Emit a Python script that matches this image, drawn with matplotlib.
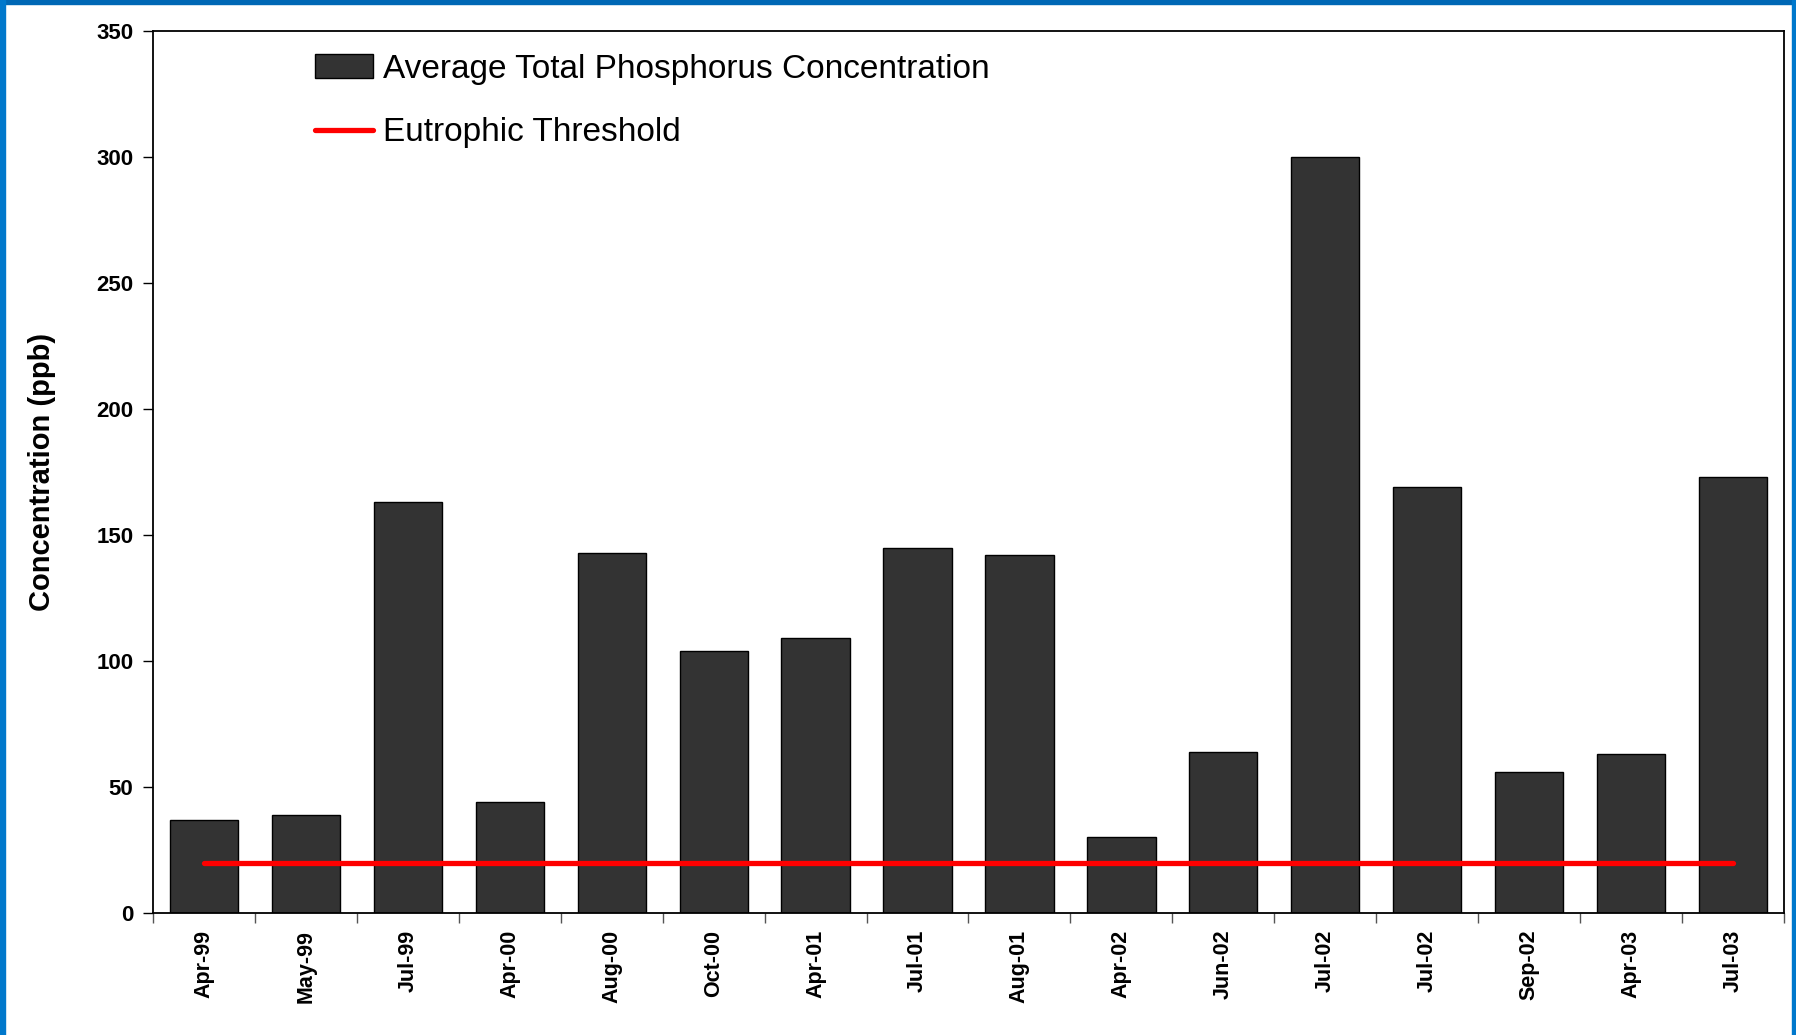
import matplotlib
matplotlib.use("Agg")
import matplotlib.pyplot as plt
from matplotlib.patches import Rectangle
import numpy as np

# sampling dates and average total phosphorus (ppb)
dates = ["Apr-99", "May-99", "Jul-99", "Apr-00", "Aug-00", "Oct-00", "Apr-01", "Jul-01",
         "Aug-01", "Apr-02", "Jun-02", "Jul-02", "Jul-02", "Sep-02", "Apr-03", "Jul-03"]
phosphorus = [37, 39, 163, 44, 143, 104, 109, 145, 142, 30, 64, 300, 169, 56, 63, 173]
threshold = [20] * len(dates)
yticks = [0, 50, 100, 150, 200, 250, 300, 350]

plt.rcParams["font.family"] = ["Liberation Sans", "DejaVu Sans"]

fig = plt.figure(figsize=(17.96, 10.35), dpi=100)
ax = fig.add_axes([0.0852, 0.1179, 0.9081, 0.8517])

x = np.arange(len(dates))
bars = ax.bar(x, phosphorus, width=0.67, color="#333333", edgecolor="black", linewidth=1.0,
              label="Average Total Phosphorus Concentration", zorder=2)
line, = ax.plot(x, threshold, color="#FF0000", lw=3.8, solid_capstyle="round",
                label="Eutrophic Threshold", zorder=3)

ax.set_xlim(-0.5, len(dates) - 0.5)
ax.set_ylim(0, 350)
ax.set_yticks(yticks)
ax.set_yticklabels([str(v) for v in yticks], fontsize=16, fontweight="bold")
ax.tick_params(axis="y", length=7, width=1, pad=7, direction="out")

ax.set_xticks(x)
ax.set_xticklabels(dates, rotation=90, fontsize=15.5, fontweight="bold", va="top", ha="center")
ax.tick_params(axis="x", which="major", length=0, pad=12)
ax.set_xticks(np.arange(len(dates) + 1) - 0.5, minor=True)
ax.tick_params(axis="x", which="minor", length=7, width=1, color="#555555", direction="out")

ax.set_ylabel("Concentration (ppb)", fontsize=21, fontweight="bold", labelpad=29)

for s in ax.spines.values():
    s.set_color("black")
    s.set_linewidth(1.3)

ax.legend([bars, line], [bars.get_label(), line.get_label()],
          loc="upper left", bbox_to_anchor=(0.081, 1.009), frameon=False, fontsize=24,
          handlelength=1.75, handletextpad=0.3, labelspacing=0.98)

# blue frame around the slide
fig.patches.append(Rectangle((0, 1 - 4 / 1035), 1, 4 / 1035, transform=fig.transFigure,
                             color="#0068B5", zorder=10))
fig.patches.append(Rectangle((0, 0), 5 / 1796, 1, transform=fig.transFigure,
                             color="#0078CC", zorder=10))
fig.patches.append(Rectangle((1 - 4 / 1796, 0), 4 / 1796, 1, transform=fig.transFigure,
                             color="#0078CC", zorder=10))

fig.savefig("out.png", dpi=100)
